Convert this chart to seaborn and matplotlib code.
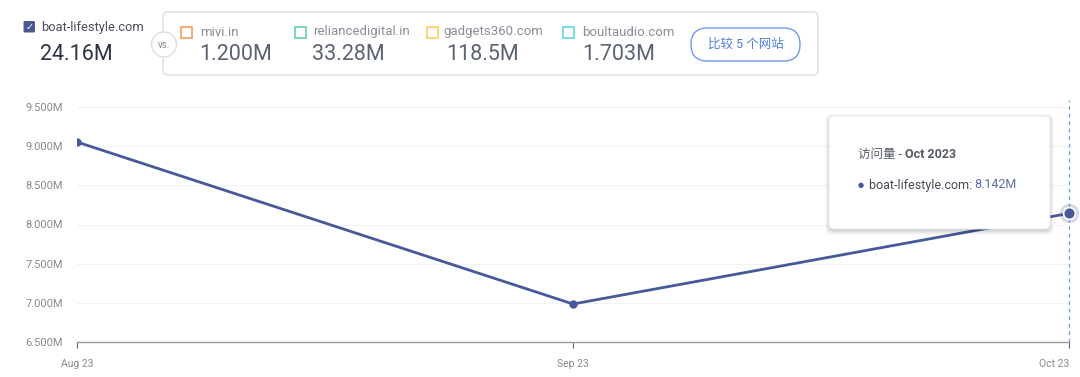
import matplotlib
matplotlib.use("Agg")
import matplotlib.pyplot as plt
from matplotlib.patches import FancyBboxPatch, Circle, Rectangle
import seaborn as sns
import pandas as pd

months = ["Aug 23", "Sep 23", "Oct 23"]
visits = [9.053e6, 6.985e6, 8.142e6]
yticks = [6.5e6, 7.0e6, 7.5e6, 8.0e6, 8.5e6, 9.0e6, 9.5e6]
ytick_labels = ["6.500M", "7.000M", "7.500M", "8.000M", "8.500M", "9.000M", "9.500M"]
main_site = "boat-lifestyle.com"
main_total = "24.16M"
comp_sites = ["mivi.in", "reliancedigital.in", "gadgets360.com", "boultaudio.com"]
comp_totals = ["1.200M", "33.28M", "118.5M", "1.703M"]
comp_colors = ["#f7a56a", "#6fd3b0", "#f9d26a", "#6fd9e8"]
tooltip_metric = "访问量 - "
tooltip_period = "Oct 2023"
tooltip_value = "8.142M"
button_text = "比较 5 个网站"

sns.set_theme(style="white")
plt.rcParams["font.family"] = ["Roboto", "Noto Sans CJK SC", "DejaVu Sans"]

W, H = 1080, 377
fig = plt.figure(figsize=(W / 100, H / 100), dpi=100)

def fx(px):
    return px / W

def fy(py):
    return 1 - py / H

ax = fig.add_axes([fx(77), fy(342), fx(1069) - fx(77), fy(107) - fy(342)])
line_color = "#46599a"
df = pd.DataFrame({"month": months, "visits": visits})
sns.lineplot(data=df, x="month", y="visits", ax=ax, color=line_color, lw=2.0,
             marker="o", markersize=6, markeredgewidth=0, sort=False)
ax.set_xlim(0, len(months) - 1)
ax.set_ylim(yticks[0], yticks[-1])
ax.set_yticks(yticks)
ax.set_yticklabels(ytick_labels, fontsize=8, color="#8a8a8a")
ax.set_xticks(range(len(months)))
ax.set_xticklabels(months, fontsize=7.5, color="#8a8a8a")
xl = ax.get_xticklabels()
xl[-1].set_ha("right")
xl[-1].set_x(len(months) - 1)
ax.set_xlabel("")
ax.set_ylabel("")
for y in yticks[1:]:
    ax.axhline(y, color="#f2f2f2", lw=0.8, zorder=0)
for s in ["top", "right", "left"]:
    ax.spines[s].set_visible(False)
ax.spines["bottom"].set_color("#999999")
ax.spines["bottom"].set_linewidth(1.0)
ax.tick_params(axis="x", length=4, width=0.8, color="#666666", pad=8, direction="out", bottom=True)
ax.tick_params(axis="y", length=0, pad=10)

# hover dashed line and halo point
ax.axvline(len(months) - 1, color="#6f9af0", lw=0.9, ls=(0, (3, 3)), ymin=0, ymax=1.03, clip_on=False)
ax.plot([len(months) - 1], [visits[-1]], "o", ms=14, color=line_color, alpha=0.22, mew=0, clip_on=False, zorder=4)
ax.plot([len(months) - 1], [visits[-1]], "o", ms=8.5, color=line_color, mec="white", mew=1.2, clip_on=False, zorder=5)

# overlay axes in pixel coordinates for the decorations
ov = fig.add_axes([0, 0, 1, 1], zorder=10)
ov.set_xlim(0, W)
ov.set_ylim(H, 0)
ov.axis("off")
ov.patch.set_alpha(0)

# Header
ov.add_patch(FancyBboxPatch((23.5, 21), 11.5, 11.5, boxstyle="round,pad=0,rounding_size=1.5",
                            fc="#4a5a8f", ec="none"))
ov.text(29.3, 27, "✓", fontsize=7, color="white", ha="center", va="center",
        family="DejaVu Sans", fontweight="bold")
ov.text(41, 27, main_site, fontsize=9.3, color="#4a4f5a", va="center")
ov.text(40, 55, main_total, fontsize=15.5, color="#2c3345", va="center")

ov.add_patch(FancyBboxPatch((163, 12), 818 - 163, 63, boxstyle="round,pad=0,rounding_size=5",
                            fc="white", ec="#dcdcdc", lw=1.0))
ov.add_patch(Circle((164, 44.5), 12.5, fc="white", ec="#dcdcdc", lw=1.0))
ov.text(164, 45, "vs.", fontsize=7, color="#8a8a8a", ha="center", va="center")

sq_x = [181, 295, 427, 563]
txt_x = [200, 313, 443, 582]
val_x = [199, 312, 446, 582]
for sx, tx, vx, name, val, c in zip(sq_x, txt_x, val_x, comp_sites, comp_totals, comp_colors):
    ov.add_patch(Rectangle((sx, 26.5), 11, 11, fc="white", ec=c, lw=1.3))
    ov.text(tx, 32, name, fontsize=9.5, color="#8a8f99", va="center")
    ov.text(vx, 55, val, fontsize=15.5, color="#5a6372", va="center")

ov.add_patch(FancyBboxPatch((691, 28), 109, 33, boxstyle="round,pad=0,rounding_size=16.5",
                            fc="white", ec="#6f9af0", lw=1.0))
ov.text(745.5, 44.5, button_text, fontsize=9, color="#4f7de0", ha="center", va="center")

# Tooltip with soft shadow
for off, a in [(5, 0.025), (4, 0.03), (3, 0.035), (2, 0.04), (1, 0.05)]:
    ov.add_patch(FancyBboxPatch((829 - off + 1, 116 - off + 3), 221 + 2 * off - 2, 113 + 2 * off - 2,
                                boxstyle="round,pad=0,rounding_size=6", fc="black", ec="none", alpha=a))
ov.add_patch(FancyBboxPatch((829, 116), 221, 113, boxstyle="round,pad=0,rounding_size=5",
                            fc="white", ec="#e6e6e6", lw=0.6))
t1 = ov.text(858, 154, tooltip_metric, fontsize=9, color="#555b66", va="center")
ov.text(905, 154, tooltip_period, fontsize=9, color="#555b66", va="center", fontweight="bold")
ov.text(858, 185, "●", fontsize=5, color=line_color, va="center", family="DejaVu Sans")
ov.text(869, 185, main_site + ": ", fontsize=9, color="#444a55", va="center")
ov.text(974, 185, tooltip_value, fontsize=9, color="#5a6bb0", va="center")

fig.savefig("out.png", dpi=100, facecolor="white")
